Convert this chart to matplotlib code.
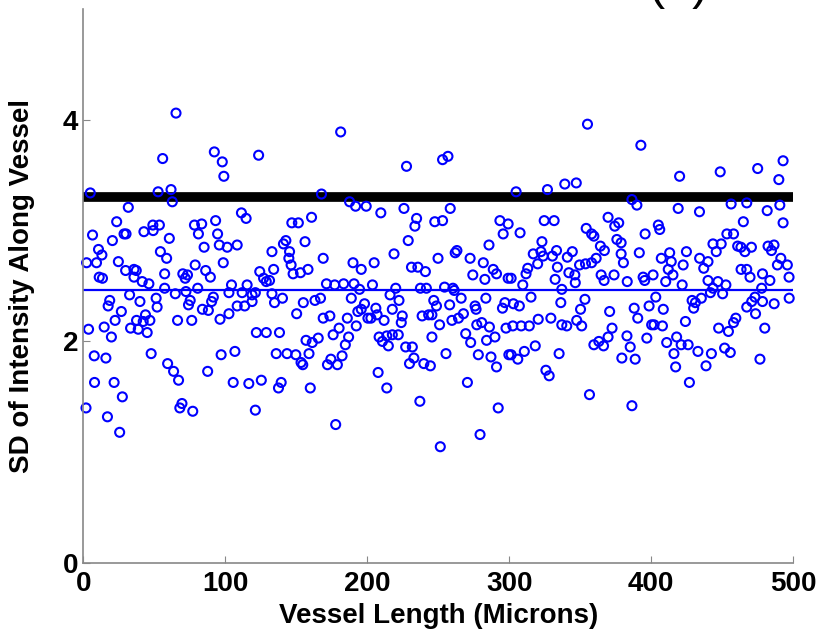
import matplotlib
matplotlib.use("Agg")
import matplotlib.pyplot as plt

plt.rcParams['font.family'] = ['Liberation Sans', 'DejaVu Sans']

# Werte (x in Mikrometer, y = SD)
length = [
    # 0-100
    65.3, 55.9, 92.3, 97.9, 99.0, 4.9, 52.7, 61.8, 62.7, 31.7, 23.5, 6.5, 20.5, 28.7, 30.1, 42.7, 49.0, 53.6,
    49.2, 60.6, 10.7, 13.1, 2.3, 9.3, 24.7, 54.3, 58.7, 11.2, 13.5, 29.8, 35.7, 37.3, 35.7, 41.5, 46.2, 57.3,
    57.3, 64.8, 70.1, 71.8, 73.4, 78.8, 78.3, 81.1, 83.4, 85.1, 86.2, 89.5, 93.2, 94.6, 95.8, 98.6, 80.6, 72.3,
    91.6, 90.4, 88.1, 83.9, 76.4, 66.4, 75.3, 74.1, 51.3, 52.0, 39.9, 32.6, 18.6, 17.5, 26.8, 22.4, 14.7, 3.7,
    19.8, 33.3, 37.5, 38.7, 43.8, 42.2, 46.9, 45.0, 96.3, 47.8, 7.7, 15.9, 59.4, 63.6, 67.1, 87.6, 97.1, 7.9,
    21.7, 27.5, 1.9, 17.0, 25.6, 69.5, 68.0, 77.1,
    # 100-200
    181.3, 123.5, 167.8, 187.6, 191.8, 199.3, 111.4, 114.7, 146.9, 151.5, 160.8, 156.2, 141.0, 142.7, 101.4,
    108.4, 132.9, 145.3, 144.8, 169.0, 146.4, 134.1, 124.3, 147.8, 153.0, 158.3, 190.0, 195.8, 127.0, 128.9,
    131.2, 104.4, 115.4, 102.6, 111.9, 118.9, 121.2, 132.9, 134.7, 140.3, 108.4, 113.7, 118.9, 102.6, 150.3,
    155.0, 163.2, 167.1, 171.3, 177.1, 183.4, 190.7, 194.6, 188.8, 198.1, 195.8, 193.4, 200.5, 169.0, 173.7,
    186.0, 192.3, 180.2, 176.0, 186.9, 184.6, 121.9, 128.9, 138.2, 156.9, 161.3, 165.5, 106.8, 135.9, 143.5,
    149.7, 153.4, 154.6, 159.0, 172.0, 174.4, 179.0, 182.3, 105.6, 116.6, 125.4, 137.5, 139.4, 159.9, 121.2,
    177.8,
    # 200-300
    227.7, 253.1, 256.9, 209.6, 225.9, 258.5, 234.8, 233.6, 247.6, 253.1, 228.9, 293.5, 299.3, 295.8, 285.8,
    263.2, 262.0, 218.9, 249.9, 204.9, 272.5, 281.8, 288.8, 291.1, 299.3, 231.2, 235.7, 241.0, 274.4, 282.9,
    203.7, 220.1, 216.1, 222.4, 237.5, 241.7, 254.5, 260.4, 261.3, 266.2, 283.6, 246.9, 248.8, 258.1, 276.0,
    276.7, 295.3, 297.0, 206.1, 202.6, 207.0, 211.9, 217.7, 224.7, 224.0, 238.7, 243.3, 245.6, 251.0, 259.7,
    264.3, 267.8, 277.2, 280.7, 286.1, 269.4, 272.9, 284.1, 290.0, 297.8, 208.4, 210.7, 213.8, 214.9, 217.7,
    221.9, 227.1, 231.8, 232.9, 229.8, 239.9, 244.5, 245.6, 255.5, 278.3, 287.2, 291.1, 299.8, 207.7, 213.8,
    270.6, 237.1, 292.3, 279.5, 251.5,
    # 300-400
    355.2, 392.8, 304.9, 327.0, 339.2, 347.3, 390.0, 386.5, 307.7, 324.7, 331.7, 369.7, 374.4, 377.2, 354.3,
    358.1, 359.7, 395.8, 323.1, 317.0, 322.4, 324.0, 330.5, 333.4, 341.0, 344.5, 364.3, 367.1, 375.9, 378.9,
    378.9, 380.5, 391.7, 320.1, 313.1, 311.9, 334.0, 342.1, 346.3, 349.6, 353.8, 358.1, 361.3, 301.4, 332.4,
    346.6, 364.8, 366.9, 373.9, 383.2, 394.4, 395.5, 401.4, 309.6, 337.1, 315.4, 336.4, 353.4, 303.0, 307.2,
    350.3, 370.8, 388.1, 398.6, 320.5, 329.4, 302.6, 308.5, 314.2, 337.1, 340.6, 347.6, 351.1, 390.6, 400.4,
    372.5, 369.7, 363.2, 359.7, 366.5, 383.0, 385.3, 397.0, 318.4, 310.7, 301.4, 306.1, 335.2, 379.4, 388.8,
    325.9, 328.2, 356.6, 386.5,
    # 400-500
    420.1, 448.7, 475.1, 493.0, 490.0, 419.1, 434.1, 456.4, 467.4, 481.8, 490.7, 465.0, 493.0, 405.1, 406.1,
    453.4, 458.1, 443.6, 449.4, 445.9, 461.0, 463.3, 466.1, 470.7, 482.4, 486.6, 484.8, 491.4, 413.1, 407.2,
    414.2, 424.9, 434.2, 440.1, 437.1, 422.6, 412.1, 415.4, 410.3, 421.9, 440.1, 447.1, 452.7, 463.4, 467.4,
    469.7, 478.5, 483.7, 489.0, 496.0, 497.2, 443.6, 450.4, 441.8, 435.4, 477.9, 473.2, 403.3, 428.9, 431.2,
    430.0, 408.6, 467.4, 470.9, 478.5, 486.7, 497.3, 473.6, 402.1, 408.0, 424.2, 459.7, 458.1, 447.6, 454.5,
    480.1, 411.0, 418.0, 421.2, 426.1, 416.1, 433.0, 442.5, 451.8, 455.8, 476.7, 417.3, 438.7, 427.0,
]
sd = [
    # 0-100
    4.06, 3.65, 3.71, 3.62, 3.49, 3.34, 3.35, 3.37, 3.26, 3.21, 3.08, 2.96, 2.91, 2.97, 2.97, 2.99, 3.05, 3.05,
    3.00, 2.93, 2.83, 2.78, 2.71, 2.71, 2.72, 2.81, 2.75, 2.58, 2.57, 2.64, 2.65, 2.64, 2.58, 2.54, 2.52, 2.61,
    2.48, 2.43, 2.61, 2.57, 2.60, 2.69, 3.05, 2.97, 3.06, 2.85, 2.64, 2.58, 3.09, 2.97, 2.87, 2.71, 2.48, 2.45,
    2.40, 2.36, 2.28, 2.29, 2.19, 2.19, 2.37, 2.33, 2.39, 2.31, 2.36, 2.42, 2.37, 2.32, 2.27, 2.19, 2.13, 2.11,
    2.04, 2.12, 2.19, 2.11, 2.24, 2.18, 2.19, 2.08, 2.20, 1.89, 1.87, 1.85, 1.80, 1.73, 1.65, 1.73, 1.88, 1.63,
    1.63, 1.50, 1.40, 1.32, 1.18, 1.44, 1.40, 1.37,
    # 100-200
    3.89, 3.68, 3.33, 3.26, 3.22, 3.22, 3.16, 3.11, 3.07, 3.07, 3.12, 2.90, 2.88, 2.91, 2.85,
    2.87, 2.81, 2.81, 2.75, 2.75, 2.69, 2.65, 2.63, 2.61, 2.62, 2.65, 2.71, 2.65, 2.57, 2.54,
    2.55, 2.51, 2.51, 2.44, 2.44, 2.42, 2.44, 2.43, 2.35, 2.39, 2.32, 2.32, 2.36, 2.25, 2.25,
    2.35, 2.37, 2.39, 2.52, 2.51, 2.52, 2.52, 2.47, 2.39, 2.34, 2.29, 2.27, 2.21, 2.21, 2.23,
    2.21, 2.14, 2.12, 2.06, 2.04, 1.97, 2.08, 2.08, 2.08, 2.01, 1.99, 2.03, 1.91, 1.89, 1.89,
    1.88, 1.81, 1.79, 1.89, 1.79, 1.84, 1.79, 1.87, 1.63, 1.62, 1.65, 1.58, 1.63, 1.58, 1.38,
    1.25,
    # 200-300
    3.58, 3.64, 3.67, 3.16, 3.20, 3.20, 3.11, 3.04, 3.08, 3.09, 2.91, 3.09, 3.06, 2.97, 2.87,
    2.82, 2.80, 2.79, 2.75, 2.71, 2.75, 2.71, 2.65, 2.61, 2.57, 2.67, 2.67, 2.63, 2.60, 2.56,
    2.51, 2.48, 2.42, 2.37, 2.48, 2.48, 2.49, 2.48, 2.46, 2.39, 2.39, 2.37, 2.32, 2.33, 2.32,
    2.29, 2.30, 2.35, 2.30, 2.21, 2.24, 2.19, 2.29, 2.23, 2.17, 2.23, 2.24, 2.24, 2.15, 2.19,
    2.21, 2.25, 2.15, 2.17, 2.13, 2.07, 1.99, 2.01, 2.04, 2.12, 2.04, 2.00, 2.05, 1.96, 2.06,
    2.06, 1.95, 1.95, 1.85, 1.80, 1.80, 1.78, 2.04, 1.89, 1.88, 1.86, 1.77, 1.88, 1.72, 1.58,
    1.63, 1.46, 1.40, 1.16, 1.05,
    # 300-400
    3.96, 3.77, 3.35, 3.37, 3.42, 3.43, 3.23, 3.28, 2.98, 3.09, 3.09, 3.12, 3.04, 3.07, 3.02,
    2.97, 2.95, 2.97, 2.90, 2.79, 2.81, 2.77, 2.77, 2.82, 2.76, 2.81, 2.86, 2.82, 2.92, 2.89,
    2.79, 2.71, 2.80, 2.70, 2.66, 2.61, 2.67, 2.62, 2.60, 2.69, 2.70, 2.71, 2.75, 2.57, 2.56,
    2.53, 2.60, 2.55, 2.60, 2.54, 2.58, 2.55, 2.60, 2.51, 2.47, 2.40, 2.35, 2.38, 2.34, 2.32,
    2.29, 2.27, 2.30, 2.32, 2.20, 2.21, 2.14, 2.14, 2.14, 2.15, 2.14, 2.19, 2.14, 2.21, 2.15,
    2.12, 2.04, 2.00, 1.97, 1.96, 2.05, 1.95, 2.03, 1.96, 1.91, 1.88, 1.84, 1.89, 1.85, 1.84,
    1.74, 1.69, 1.52, 1.42,
    # 400-500
    3.49, 3.53, 3.56, 3.63, 3.46, 3.20, 3.17, 3.24, 3.25, 3.18, 3.23, 3.08, 3.07, 3.05, 3.01,
    2.97, 2.97, 2.88, 2.88, 2.81, 2.86, 2.85, 2.81, 2.85, 2.86, 2.87, 2.82, 2.75, 2.80, 2.75,
    2.72, 2.81, 2.75, 2.72, 2.66, 2.69, 2.65, 2.60, 2.54, 2.51, 2.55, 2.54, 2.51, 2.65, 2.65,
    2.58, 2.61, 2.55, 2.69, 2.69, 2.58, 2.48, 2.43, 2.44, 2.39, 2.48, 2.40, 2.40, 2.37, 2.35,
    2.30, 2.29, 2.31, 2.36, 2.36, 2.34, 2.39, 2.25, 2.15, 2.14, 2.18, 2.21, 2.17, 2.12, 2.09,
    2.12, 1.99, 2.04, 1.97, 1.97, 1.89, 1.91, 1.89, 1.94, 1.90, 1.84, 1.77, 1.78, 1.63,
]

schwelle = 3.3   # dicke schwarze Linie
mittel = 2.46    # duenne blaue Linie

fig = plt.figure(figsize=(8.2, 6.37), dpi=100)
ax = fig.add_axes([0.1016, 0.116, 0.8655, 0.870])

ax.plot([0, 500], [schwelle, schwelle], color='black', linewidth=7, solid_capstyle='butt', zorder=1)
ax.plot([0, 500], [mittel, mittel], color='blue', linewidth=1.6, zorder=1)
ax.scatter(length, sd, s=42, facecolors='none', edgecolors='blue', linewidths=1.5, zorder=2, clip_on=False)

ax.set_xlim(0, 500)
ax.set_ylim(0, 5)
ax.set_xticks([0, 100, 200, 300, 400, 500])
ax.set_yticks([0, 2, 4])
ax.spines['top'].set_visible(False)
ax.spines['right'].set_visible(False)
for s in ['left', 'bottom']:
    ax.spines[s].set_color('#888888')
    ax.spines[s].set_linewidth(1.2)
ax.tick_params(direction='in', length=5, color='#888888', labelsize=20)
ax.tick_params(axis='x', pad=6)
ax.tick_params(axis='y', pad=3.5)
for lab in ax.get_xticklabels() + ax.get_yticklabels():
    lab.set_fontweight('bold')

ax.set_xlabel('Vessel Length (Microns)', fontsize=20, fontweight='bold', labelpad=4)
ax.set_ylabel('SD of Intensity Along Vessel', fontsize=20, fontweight='bold', labelpad=20)

# Panelbuchstabe, oben abgeschnitten wie im Original
fig.text(0.827, 1.002, '(b)', fontsize=35, ha='center', va='baseline')

fig.savefig('out.png', dpi=100)
